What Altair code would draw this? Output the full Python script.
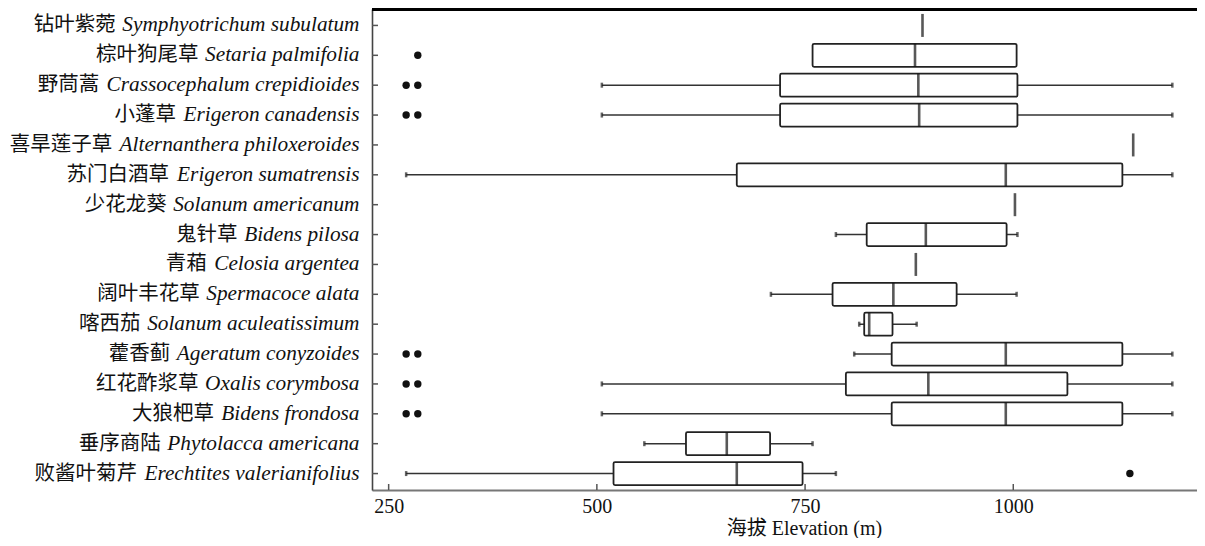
import altair as alt
import pandas as pd

# ---- data (top to bottom) ----
cn_names = ["钻叶紫菀", "棕叶狗尾草", "野茼蒿", "小蓬草", "喜旱莲子草", "苏门白酒草",
            "少花龙葵", "鬼针草", "青葙", "阔叶丰花草", "喀西茄", "藿香蓟",
            "红花酢浆草", "大狼杷草", "垂序商陆", "败酱叶菊芹"]
latin_names = ["Symphyotrichum subulatum", "Setaria palmifolia", "Crassocephalum crepidioides",
               "Erigeron canadensis", "Alternanthera philoxeroides", "Erigeron sumatrensis",
               "Solanum americanum", "Bidens pilosa", "Celosia argentea", "Spermacoce alata",
               "Solanum aculeatissimum", "Ageratum conyzoides", "Oxalis corymbosa",
               "Bidens frondosa", "Phytolacca americana", "Erechtites valerianifolius"]
mins    = [891, 759, 506, 506, 1144, 271, 1002, 787, 883, 709, 815, 809, 506, 506, 557, 271]
q1s     = [891, 759, 720, 720, 1144, 668, 1002, 824, 883, 783, 821, 854, 799, 854, 607, 520]
medians = [891, 882, 886, 887, 1144, 991, 1002, 895, 883, 856, 827, 991, 898, 991, 656, 668]
q3s     = [891, 1004, 1005, 1005, 1144, 1131, 1002, 992, 883, 932, 855, 1131, 1065, 1131, 708, 747]
maxs    = [891, 1004, 1191, 1191, 1144, 1191, 1002, 1005, 883, 1004, 884, 1191, 1191, 1191, 759, 787]

outlier_species = ["Setaria palmifolia",
                   "Crassocephalum crepidioides", "Crassocephalum crepidioides",
                   "Erigeron canadensis", "Erigeron canadensis",
                   "Ageratum conyzoides", "Ageratum conyzoides",
                   "Oxalis corymbosa", "Oxalis corymbosa",
                   "Bidens frondosa", "Bidens frondosa",
                   "Erechtites valerianifolius"]
outlier_values = [285, 271, 285, 271, 285, 271, 285, 271, 285, 271, 285, 1140]

x_ticks = [250, 500, 750, 1000]

# ---- layout helpers ----
W, H = 825, 481
LAT_SIZE = 21.3
CN_SIZE = 20.5
LABEL_PAD = 13
CN_GAP = 6

# Times/Liberation Serif Italic advance widths (1/1000 em) for label layout
_tw = {" ": 250, "A": 611, "B": 611, "C": 667, "E": 611, "O": 722, "P": 611, "S": 500,
       "a": 500, "b": 500, "c": 444, "d": 500, "e": 444, "f": 278, "g": 500, "h": 500,
       "i": 278, "j": 278, "k": 444, "l": 278, "m": 722, "n": 500, "o": 500, "p": 500,
       "q": 500, "r": 389, "s": 389, "t": 278, "u": 500, "v": 444, "w": 667, "x": 444,
       "y": 444, "z": 389}


def text_w(s):
    return sum(_tw.get(ch, 500) for ch in s) * LAT_SIZE / 1000.0


df = pd.DataFrame({"latin": latin_names, "cn": cn_names, "mn": mins, "q1": q1s,
                   "med": medians, "q3": q3s, "mx": maxs})
df["cnx"] = [-(LABEL_PAD + text_w(s) + CN_GAP) for s in latin_names]

boxes = df[df.q3 > df.q1]
caps = pd.concat([
    df[df.mn < df.q1][["latin", "mn"]].rename(columns={"mn": "v"}),
    df[df.mx > df.q3][["latin", "mx"]].rename(columns={"mx": "v"}),
])
outs = pd.DataFrame({"latin": outlier_species, "v": outlier_values})
ticks_df = pd.DataFrame({"v": x_ticks})

xscale = alt.Scale(domain=[230, 1220.6], nice=False, zero=False)
yscale = alt.Scale(type="band", domain=latin_names, paddingInner=0, paddingOuter=0.05)

X = lambda f: alt.X(f, scale=xscale, axis=alt.Axis(
    values=x_ticks, format="d", title="海拔 Elevation (m)", grid=False, ticks=False,
    domain=True, domainColor="#777", domainWidth=2,
    labelFont="Liberation Serif", labelFontSize=20, labelColor="#111", labelPadding=6,
    titleFont="Liberation Serif, Noto Sans CJK SC", titleFontSize=20, titleFontWeight="normal",
    titleColor="#111", titleX=432, titleY=44, titleBaseline="alphabetic",
    titleAlign="center", titleAnchor="start"))
Y = alt.Y("latin:N", scale=yscale, sort=latin_names, axis=alt.Axis(
    title=None, ticks=False, domain=True, domainColor="#444", domainWidth=1.6,
    labelFont="Liberation Serif", labelFontStyle="italic", labelFontSize=LAT_SIZE,
    labelColor="#111", labelPadding=LABEL_PAD, labelLimit=0))

base = alt.Chart(df)

whisk = base.mark_rule(color="#333", strokeWidth=1.6).encode(x=X("mn:Q"), x2="mx:Q", y=Y)
capm = alt.Chart(caps).mark_tick(color="#222", size=5, thickness=2.5).encode(
    x=alt.X("v:Q", scale=xscale), y=alt.Y("latin:N", scale=yscale, sort=latin_names))
box = alt.Chart(boxes).mark_bar(fill="white", stroke="#222", strokeWidth=1.8,
                                size=23, cornerRadius=1.5).encode(
    x=alt.X("q1:Q", scale=xscale), x2="q3:Q",
    y=alt.Y("latin:N", scale=yscale, sort=latin_names))
med = base.mark_tick(color="#111", size=23, thickness=2.6).encode(
    x=alt.X("med:Q", scale=xscale), y=alt.Y("latin:N", scale=yscale, sort=latin_names))
pts = alt.Chart(outs).mark_circle(color="#111", size=55, opacity=1).encode(
    x=alt.X("v:Q", scale=xscale), y=alt.Y("latin:N", scale=yscale, sort=latin_names))

yticks = base.mark_rule(color="#555", strokeWidth=1.5).encode(
    x=alt.value(0), x2=alt.value(6), y=alt.Y("latin:N", scale=yscale, sort=latin_names))
xticks = alt.Chart(ticks_df).mark_rule(color="#555", strokeWidth=1.5).encode(
    x=alt.X("v:Q", scale=xscale), y=alt.value(H), y2=alt.value(H - 6))
top = base.mark_rule(color="#000", strokeWidth=3).encode(
    x=alt.value(0), x2=alt.value(W), y=alt.value(0))

cn_text = base.mark_text(align="right", baseline="middle", font="Noto Sans CJK SC",
                         fontSize=CN_SIZE, color="#111").encode(
    x=alt.X("cnx:Q", scale=None), y=alt.Y("latin:N", scale=yscale, sort=latin_names),
    text="cn:N")

chart = alt.layer(whisk, capm, box, med, pts, yticks, xticks, top, cn_text).properties(
    width=W, height=H,
    padding={"left": 364, "top": 1, "right": 0, "bottom": 48},
    autosize=alt.AutoSizeParams(type="none"),
).configure_view(stroke=None).configure(background="white")

chart.save("out.html", embed_options={"renderer": "svg", "actions": False})
